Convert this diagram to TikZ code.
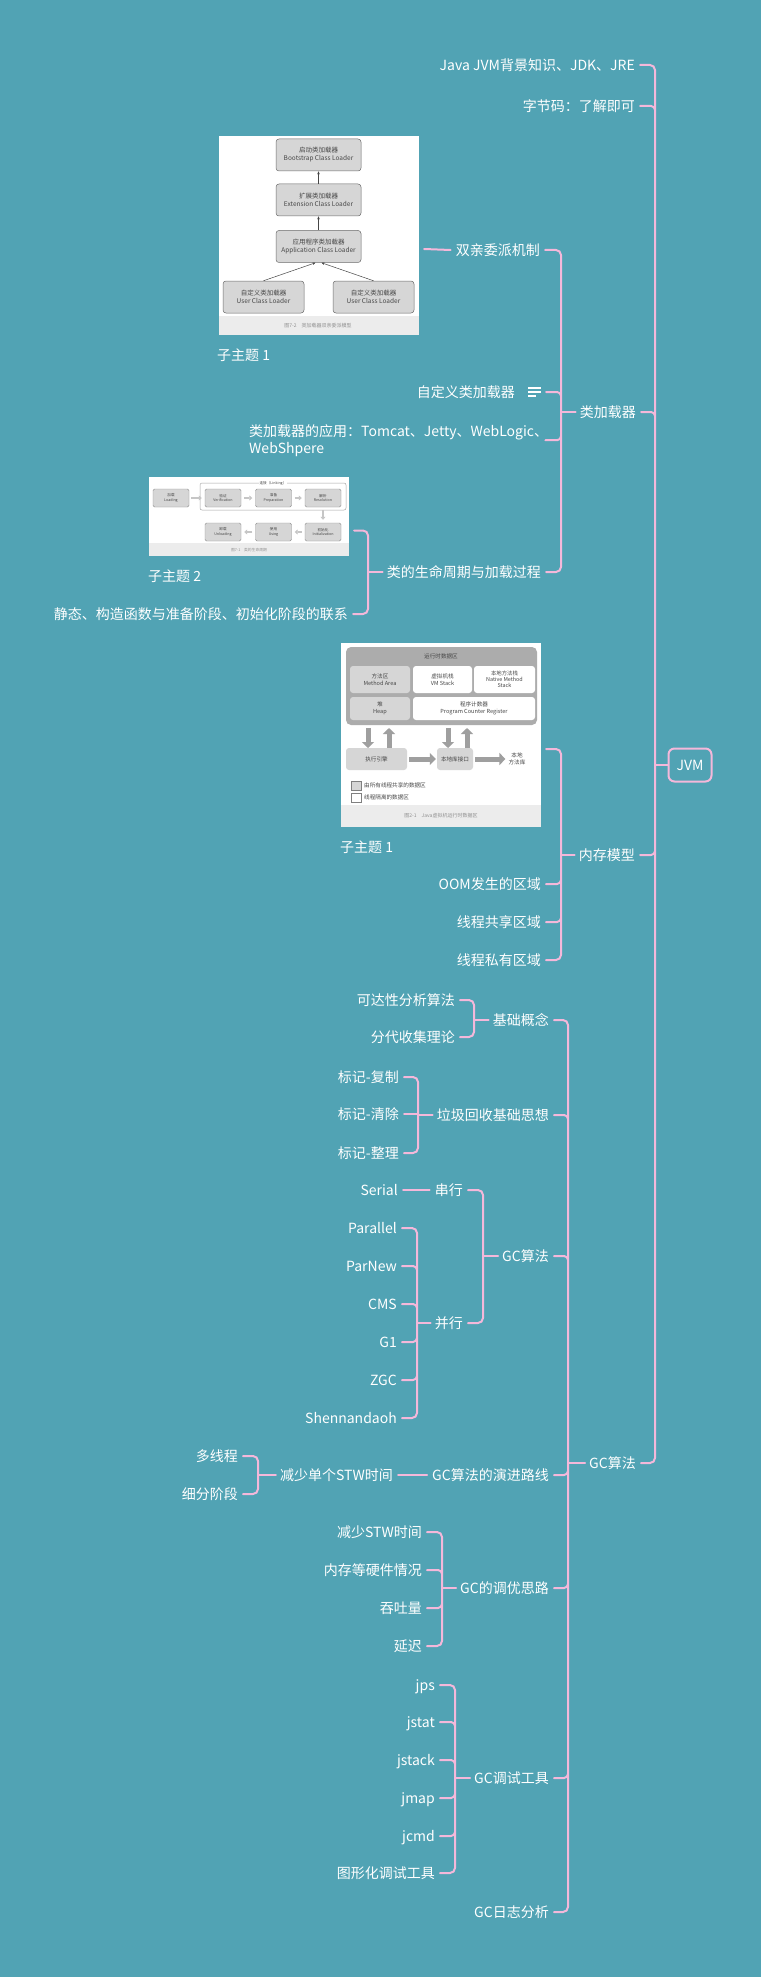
\documentclass[tikz,border=0pt]{standalone}
\usepackage{fontspec}
\setmainfont{Noto Sans CJK SC}
\usetikzlibrary{arrows.meta}
\definecolor{bg}{RGB}{81,163,180}
\definecolor{pk}{RGB}{244,184,218}
\definecolor{lg}{RGB}{214,214,214}
\definecolor{mg}{RGB}{172,172,172}
\definecolor{cg}{RGB}{236,236,236}
\definecolor{dk}{RGB}{70,70,70}
\newcommand\brk[3]{\draw[conn,rounded corners=5pt] ([xshift=5pt]#2.east) -- (#1 |- #2.east) -- (#1 |- #3.east) -- ([xshift=5pt]#3.east);}
\newcommand\midc[3]{\draw[conn,rounded corners=4pt] ([xshift=5pt]#2.east) -- (#1 |- #2.east) -- ++(0,#3);}
\newcommand\stubc[2]{\draw[conn] (#1) -- ([xshift=-4pt]#2.west);}
\newcommand\strc[2]{\draw[conn] ([xshift=5pt]#1.east) -- ([xshift=-5pt]#2.west);}
\begin{document}
\begin{tikzpicture}[x=1pt,y=-1pt,
 tx/.style={font=\fontsize{14}{17}\selectfont, text=white, inner sep=0pt, text height=11.5pt, text depth=1pt},
 conn/.style={draw=pk, line width=2pt, line cap=round},
 ib/.style={draw=dk!80, fill=lg, rounded corners=3pt, line width=0.5pt, align=center, inner sep=0pt, text=dk, font=\fontsize{6.5}{8}\selectfont},
 ib2/.style={draw=dk!60, fill=lg, rounded corners=1.5pt, line width=0.4pt, align=center, inner sep=0pt, text=dk, font=\fontsize{3.6}{4.4}\selectfont, minimum width=36, minimum height=18},
 ib3/.style={rounded corners=3pt, align=center, inner sep=0pt, text=dk, font=\fontsize{5.6}{6.6}\selectfont},
 captx/.style={inner sep=0pt, text=dk!60, font=\fontsize{5}{6}\selectfont},
 iarr/.style={draw=dk, line width=0.5pt, -{Stealth[length=3pt,width=2.5pt]}},
 blk/.style={draw=gray!75, line width=5pt, -{Triangle[length=6pt,width=12pt]}},
 blk2/.style={draw=gray!45, line width=2pt, -{Triangle[length=3pt,width=5pt]}}]
\fill[bg] (0,0) rectangle (761,1977);
\useasboundingbox (0,0) rectangle (761,1977);

% ---------- image 1 ----------
\fill[white] (219,136) rectangle (419,335);
\fill[cg] (219,316) rectangle (419,335);
\node[captx] (cap1) at (318,326) {图7-2\quad 类加载器双亲委派模型};
\node[ib, minimum width=85, minimum height=32] (boot) at (318.5,155) {启动类加载器\\Bootstrap Class Loader};
\node[ib, minimum width=85, minimum height=32] (ext) at (318.5,200) {扩展类加载器\\Extension Class Loader};
\node[ib, minimum width=85, minimum height=32] (app) at (318.5,246.5) {应用程序类加载器\\Application Class Loader};
\node[ib, minimum width=81, minimum height=32] (usr1) at (263.5,297) {自定义类加载器\\User Class Loader};
\node[ib, minimum width=81, minimum height=32] (usr2) at (373.5,297) {自定义类加载器\\User Class Loader};
\draw[iarr] (ext) -- (boot);
\draw[iarr] (app) -- (ext);
\draw[iarr] (usr1.north) -- ([xshift=-3pt]app.south);
\draw[iarr] (usr2.north) -- ([xshift=3pt]app.south);
\node[tx, anchor=west] (st1) at (217,355) {子主题 1};
\node[minimum width=202, minimum height=226, inner sep=0pt] (sub1) at (318,249) {};

% ---------- image 2 ----------
\fill[white] (149,477) rectangle (349,556);
\fill[cg] (149,543) rectangle (349,556);
\node[captx, font=\fontsize{3.8}{4.5}\selectfont] (cap2) at (249,550) {图7-1\quad 类的生命周期};
\draw[draw=gray!70, line width=0.5pt, rounded corners=2pt] (200,483) rectangle (346,510);
\node[ib2] (ld) at (171,498) {加载\\Loading};
\node[ib2] (vf) at (223,498) {验证\\Verification};
\node[ib2] (pp) at (273.5,498) {准备\\Preparation};
\node[ib2] (rs) at (323,498) {解析\\Resolution};
\node[ib2] (inz) at (323,532) {初始化\\Initialization};
\node[ib2] (us) at (273.5,532) {使用\\Using};
\node[ib2] (ul) at (223,532) {卸载\\Unloading};
\node[fill=white, inner sep=1pt, text=dk, font=\fontsize{3.6}{4.4}\selectfont] (lk) at (273,483) {连接（Linking）};
\draw[blk2] ([xshift=2pt]ld.east) -- ([xshift=-3pt]vf.west);
\draw[blk2] ([xshift=3pt]vf.east) -- ([xshift=-3pt]pp.west);
\draw[blk2] ([xshift=3pt]pp.east) -- ([xshift=-3pt]rs.west);
\draw[blk2] ([yshift=-3pt]rs.south) -- ([yshift=3pt]inz.north);
\draw[blk2] ([xshift=-3pt]inz.west) -- ([xshift=3pt]us.east);
\draw[blk2] ([xshift=-3pt]us.west) -- ([xshift=3pt]ul.east);
\node[tx, anchor=west] (st2) at (148,576) {子主题 2};
\node[minimum width=200, minimum height=107, inner sep=0pt] (sub2) at (249,530.5) {};

% ---------- image 3 ----------
\fill[white] (341,643) rectangle (541,827);
\fill[cg] (341,805) rectangle (541,827);
\node[captx] (cap3) at (441,816) {图2-1\quad Java虚拟机运行时数据区};
\fill[mg, rounded corners=5pt] (346,647) rectangle (537,725);
\node[ib3] (rt) at (441,656) {运行时数据区};
\node[ib3, fill=lg, minimum width=60, minimum height=27] (ma) at (380,679.5) {方法区\\Method Area};
\node[ib3, fill=white, minimum width=59, minimum height=27] (vs) at (442.5,679.5) {虚拟机栈\\VM Stack};
\node[ib3, fill=white, minimum width=61, minimum height=27, font=\fontsize{5.4}{6}\selectfont] (ns) at (504.5,679.5) {本地方法栈\\Native Method\\Stack};
\node[ib3, fill=lg, minimum width=60, minimum height=23] (hp) at (380,708.5) {堆\\Heap};
\node[ib3, fill=white, minimum width=122, minimum height=23] (pc) at (474,708.5) {程序计数器\\Program Counter Register};
\node[ib3, fill=lg, minimum width=61, minimum height=22] (ee) at (376.5,759) {执行引擎};
\node[ib3, fill=lg, minimum width=36, minimum height=22] (ni) at (455,759) {本地库接口};
\node[ib3] (nl) at (517,759) {本地\\方法库};
\draw[blk] (368,728) -- (368,748);
\draw[blk] (389,748) -- (389,728);
\draw[blk] (448,728) -- (448,748);
\draw[blk] (467,748) -- (467,728);
\draw[blk] ([xshift=2pt]ee.east) -- ([xshift=-1pt]ni.west);
\draw[blk] ([xshift=2pt]ni.east) -- ([xshift=-3pt]nl.west);
\draw[draw=gray, fill=lg, line width=0.4pt] (351,781) rectangle (361,790);
\draw[draw=gray, fill=white, line width=0.4pt] (351,793) rectangle (361,802);
\node[ib3, anchor=west] (lg1) at (364,785.5) {由所有线程共享的数据区};
\node[ib3, anchor=west] (lg2) at (364,797.5) {线程隔离的数据区};
\node[tx, anchor=west] (st3) at (340,847) {子主题 1};
\node[minimum width=200, minimum height=212, inner sep=0pt] (sub3) at (441,749) {};

% ---------- root ----------
\node[draw=pk, line width=2pt, rounded corners=6pt, minimum width=43, minimum height=33, inner sep=0pt, text=white, font=\fontsize{14}{17}\selectfont] (jvm) at (690,765) {JVM};
\coordinate (J0) at (655,765);
\node[tx, anchor=east] (n1) at (635,65) {Java JVM背景知识、JDK、JRE};
\node[tx, anchor=east] (n2) at (635,106) {字节码：了解即可};
\node[tx, anchor=east] (cl) at (636,412) {类加载器};
\node[tx, anchor=east] (mm) at (635,855) {内存模型};
\node[tx, anchor=east] (gc) at (636,1463) {GC算法};
\brk{J0}{n1}{gc}
\midc{J0}{n2}{4}
\midc{J0}{cl}{4}
\midc{J0}{mm}{-4}
\draw[conn] (J0) -- (jvm.west);

% ---------- 类加载器 ----------
\coordinate (J1) at (561,412);
\node[tx, anchor=east] (sq) at (540,250) {双亲委派机制};
\node[tx, anchor=east] (zd) at (515,392) {自定义类加载器};
\node[minimum width=13, minimum height=10, inner sep=0pt] (ic) at (534.5,392) {};
\draw[white, line width=1.3pt] (528,388) -- (541,388);
\draw[white, line width=1.3pt] (528,392) -- (541,392);
\draw[white, line width=1.3pt] (528,396) -- (536,396);
\node[font=\fontsize{14}{17}\selectfont, text=white, inner sep=0pt, anchor=north west, align=left, text width=291pt] (yy) at (249,424) {类加载器的应用：Tomcat、Jetty、WebLogic、\\WebShpere};
\node[tx, anchor=east] (sm) at (541,572) {类的生命周期与加载过程};
\brk{J1}{sq}{sm}
\midc{J1}{ic}{4}
\midc{J1}{yy}{-4}
\stubc{J1}{cl}
\strc{sub1}{sq}

% ---------- 类的生命周期 ----------
\coordinate (J2) at (368,572);
\node[tx, anchor=east] (jt) at (348,614) {静态、构造函数与准备阶段、初始化阶段的联系};
\brk{J2}{sub2}{jt}
\stubc{J2}{sm}

% ---------- 内存模型 ----------
\coordinate (J3) at (561,855);
\node[tx, anchor=east] (oom) at (541,884) {OOM发生的区域};
\node[tx, anchor=east] (gx) at (541,922) {线程共享区域};
\node[tx, anchor=east] (sy) at (541,960) {线程私有区域};
\brk{J3}{sub3}{sy}
\midc{J3}{oom}{-4}
\midc{J3}{gx}{-4}
\stubc{J3}{mm}

% ---------- GC算法 ----------
\coordinate (J4) at (568,1463);
\node[tx, anchor=east] (jc) at (549,1020) {基础概念};
\node[tx, anchor=east] (lj) at (549,1115) {垃圾回收基础思想};
\node[tx, anchor=east] (ga) at (549,1256) {GC算法};
\node[tx, anchor=east] (yj) at (549,1475) {GC算法的演进路线};
\node[tx, anchor=east] (tu) at (549,1588) {GC的调优思路};
\node[tx, anchor=east] (ts) at (549,1778) {GC调试工具};
\node[tx, anchor=east] (rz) at (549,1912) {GC日志分析};
\brk{J4}{jc}{rz}
\midc{J4}{lj}{4}
\midc{J4}{ga}{4}
\midc{J4}{yj}{-4}
\midc{J4}{tu}{-4}
\midc{J4}{ts}{-4}
\stubc{J4}{gc}

% 基础概念
\coordinate (J5) at (474,1020);
\node[tx, anchor=east] (kd) at (455,1000) {可达性分析算法};
\node[tx, anchor=east] (fd) at (455,1037) {分代收集理论};
\brk{J5}{kd}{fd}
\stubc{J5}{jc}

% 垃圾回收基础思想
\coordinate (J6) at (418,1115);
\node[tx, anchor=east] (b1) at (399,1077) {标记-复制};
\node[tx, anchor=east] (b2) at (399,1114) {标记-清除};
\node[tx, anchor=east] (b3) at (399,1153) {标记-整理};
\brk{J6}{b1}{b3}
\draw[conn] ([xshift=5pt]b2.east) -- (J6 |- b2.east);
\stubc{J6}{lj}

% GC算法 inner
\coordinate (J7) at (483,1256);
\node[tx, anchor=east] (cx) at (463,1190) {串行};
\node[tx, anchor=east] (bx) at (463,1323) {并行};
\node[tx, anchor=east] (se) at (398,1190) {Serial};
\brk{J7}{cx}{bx}
\stubc{J7}{ga}
\strc{se}{cx}

\coordinate (J8) at (417,1323);
\node[tx, anchor=east] (p1) at (397,1228) {Parallel};
\node[tx, anchor=east] (p2) at (397,1266) {ParNew};
\node[tx, anchor=east] (p3) at (397,1304) {CMS};
\node[tx, anchor=east] (p4) at (397,1342) {G1};
\node[tx, anchor=east] (p5) at (397,1380) {ZGC};
\node[tx, anchor=east] (p6) at (397,1418) {Shennandaoh};
\brk{J8}{p1}{p6}
\midc{J8}{p2}{4}
\midc{J8}{p3}{4}
\midc{J8}{p4}{-4}
\midc{J8}{p5}{-4}
\stubc{J8}{bx}

% 演进路线
\node[tx, anchor=east] (jd) at (393,1475) {减少单个STW时间};
\strc{jd}{yj}
\coordinate (J9) at (258,1475);
\node[tx, anchor=east] (dx) at (238,1456) {多线程};
\node[tx, anchor=east] (xf) at (238,1494) {细分阶段};
\brk{J9}{dx}{xf}
\stubc{J9}{jd}

% 调优思路
\coordinate (J10) at (442,1588);
\node[tx, anchor=east] (r1) at (422,1532) {减少STW时间};
\node[tx, anchor=east] (r2) at (422,1570) {内存等硬件情况};
\node[tx, anchor=east] (r3) at (422,1608) {吞吐量};
\node[tx, anchor=east] (r4) at (422,1646) {延迟};
\brk{J10}{r1}{r4}
\midc{J10}{r2}{4}
\midc{J10}{r3}{-4}
\stubc{J10}{tu}

% 调试工具
\coordinate (J11) at (455,1778);
\node[tx, anchor=east] (t1) at (435,1685) {jps};
\node[tx, anchor=east] (t2) at (435,1722) {jstat};
\node[tx, anchor=east] (t3) at (435,1760) {jstack};
\node[tx, anchor=east] (t4) at (435,1798) {jmap};
\node[tx, anchor=east] (t5) at (435,1836) {jcmd};
\node[tx, anchor=east] (t6) at (435,1873) {图形化调试工具};
\brk{J11}{t1}{t6}
\midc{J11}{t2}{4}
\midc{J11}{t3}{4}
\midc{J11}{t4}{-4}
\midc{J11}{t5}{-4}
\stubc{J11}{ts}
\end{tikzpicture}
\end{document}
